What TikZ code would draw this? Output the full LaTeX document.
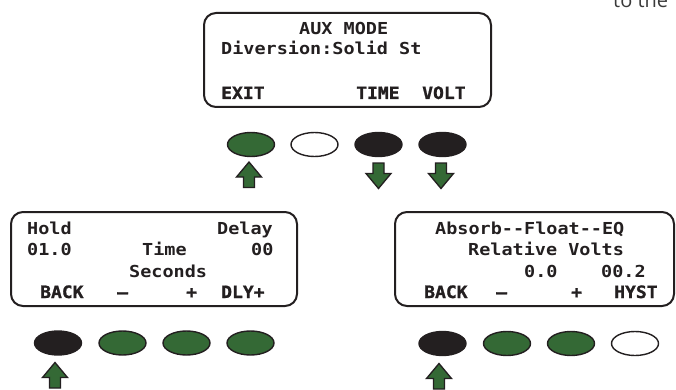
\documentclass[tikz,border=0pt]{standalone}
\usepackage{fontspec}
\usepackage{xcolor}
\usepackage{tikz}
\usetikzlibrary{shapes.geometric}
\setmonofont[FakeStretch=1.12]{DejaVu Sans Mono}
\newfontfamily\keyfont[FakeStretch=1.06,FakeBold=1.2]{DejaVu Sans Mono Bold}
\newfontfamily\notefont{Open Sans}
\definecolor{ink}{HTML}{231F20}
\definecolor{key}{HTML}{346935}
\definecolor{note}{HTML}{3A3A3A}
\tikzset{
  screen/.style={draw=ink, line width=2pt, rounded corners=12pt, minimum height=94pt, inner sep=0pt},
  lcd/.style={text=ink, anchor=base west, inner sep=0pt, font=\ttfamily\bfseries\fontsize{16.5}{16.5}\selectfont},
  soft/.style={lcd, font=\keyfont\fontsize{17}{17}\selectfont},
  btn/.style={ellipse, draw=ink, line width=1.4pt, minimum width=47pt, minimum height=24pt, inner sep=0pt},
  btnon/.style={btn, fill=ink},
  btngo/.style={btn, fill=key},
  btnoff/.style={btn, fill=white},
  push/.style={draw=ink, fill=key, line width=1.3pt, line join=miter},
  pushup/.pic={\path[push] (0,-13) -- (12.5,2) -- (5.5,2) -- (5.5,12.5) -- (-5.5,12.5) -- (-5.5,2) -- (-12.5,2) -- cycle;},
  pushdown/.pic={\path[push] (0,13) -- (12.5,-2) -- (5.5,-2) -- (5.5,-12.5) -- (-5.5,-12.5) -- (-5.5,-2) -- (-12.5,-2) -- cycle;},
}

\begin{document}
\begin{tikzpicture}[x=1pt,y=-1pt]
  \useasboundingbox (0,0) rectangle (676,390);
  \clip (0,0) rectangle (676,390);
  \node[text=note, anchor=base west, inner sep=0pt, font=\notefont\fontsize{20}{20}\selectfont] (cut) at (613,8) {to the};

  \node[screen, minimum width=287pt] (aux) at (347.5,60) {};
  \node[lcd] (auxtitle) at (299,35) {AUX MODE};
  \node[lcd] (auxdiv) at (221,55) {Diversion:Solid St};
  \node[soft] (auxexit) at (221,99) {EXIT};
  \node[soft] (auxtime) at (356,99) {TIME};
  \node[soft] (auxvolt) at (422,99) {VOLT};

  \node[btngo] (b1) at (251,144.5) {};
  \node[btnoff] (b2) at (314.5,144.5) {};
  \node[btnon] (b3) at (378.5,144.5) {};
  \node[btnon] (b4) at (442.5,144.5) {};
  \pic at (249,175) {pushup};
  \pic at (378.5,175.5) {pushdown};
  \pic at (441,175.5) {pushdown};

  \node[screen, minimum width=286pt] (time) at (154,259) {};
  \node[lcd] (hold) at (27,234) {Hold};
  \node[lcd] (delay) at (217,234) {Delay};
  \node[lcd] (holdval) at (27,255) {01.0};
  \node[lcd] (timelbl) at (142,255) {Time};
  \node[lcd] (delayval) at (251,255) {00};
  \node[lcd] (seconds) at (129,277) {Seconds};
  \node[soft] (tback) at (40,298) {BACK};
  \node[soft] (tminus) at (117,298) {\textendash};
  \node[soft] (tplus) at (186,298) {+};
  \node[soft] (tdly) at (221,298) {DLY+};

  \node[btnon] (t1) at (58,343) {};
  \node[btngo] (t2) at (122.5,343) {};
  \node[btngo] (t3) at (186.5,343) {};
  \node[btngo] (t4) at (250.5,343) {};
  \pic at (55,375.5) {pushup};

  \node[screen, minimum width=279pt] (volt) at (534.5,259) {};
  \node[lcd] (stages) at (435,234) {Absorb--Float--EQ};
  \node[lcd] (relvolts) at (468,255) {Relative Volts};
  \node[lcd] (relval) at (524,277) {0.0};
  \node[lcd] (hystval) at (601,277) {00.2};
  \node[soft] (vback) at (424,298) {BACK};
  \node[soft] (vminus) at (496,298) {\textendash};
  \node[soft] (vplus) at (571,298) {+};
  \node[soft] (vhyst) at (614,298) {HYST};

  \node[btnon] (v1) at (442.5,343.5) {};
  \node[btngo] (v2) at (507,343.5) {};
  \node[btngo] (v3) at (571,343.5) {};
  \node[btnoff] (v4) at (635,343.5) {};
  \pic at (439,376.5) {pushup};
\end{tikzpicture}
\end{document}
